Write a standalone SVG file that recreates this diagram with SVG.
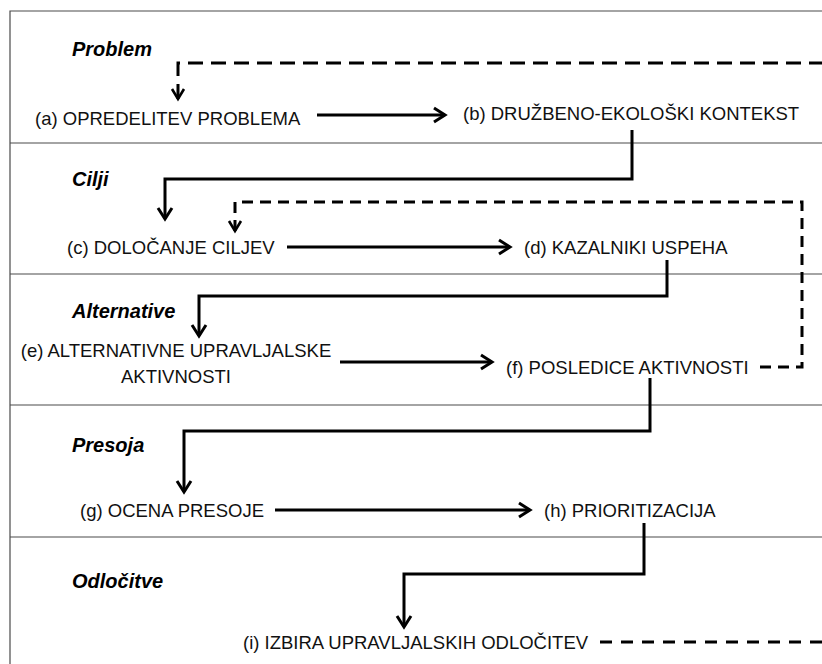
<svg xmlns="http://www.w3.org/2000/svg" width="822" height="664" viewBox="0 0 822 664">
  <style>
    .frame { stroke: #4a4a4a; stroke-width: 1.2; fill: none; }
    .lane { font-family: "Liberation Sans", Arial, sans-serif; font-size: 20px; font-weight: bold; font-style: italic; fill: #000; }
    .node { font-family: "Liberation Sans", Arial, sans-serif; font-size: 18.5px; fill: #111; }
    .solid { stroke: #000; stroke-width: 3; fill: none; stroke-linejoin: miter; marker-end: url(#ah); }
    .dash { stroke: #000; stroke-width: 3; fill: none; stroke-linejoin: miter; }
  </style>
  <defs>
    <marker id="ah" markerUnits="userSpaceOnUse" viewBox="-16 -10 20 20" refX="0" refY="0" markerWidth="20" markerHeight="20" orient="auto" overflow="visible">
      <path d="M-11,-7 L0,0 L-11,7" fill="none" stroke="#000" stroke-width="3"/>
    </marker>
    <marker id="ahd" markerUnits="userSpaceOnUse" viewBox="-16 -10 20 20" refX="0" refY="0" markerWidth="20" markerHeight="20" orient="auto-start-reverse" overflow="visible">
      <path d="M-10,-6 L0,0 L-10,6" fill="none" stroke="#000" stroke-width="2.6"/>
    </marker>
  </defs>
  <rect x="0" y="0" width="822" height="664" fill="#fff"/>

  <g id="frame">
    <path class="frame" d="M10,664 V11 H822"/>
    <path class="frame" d="M10,143 H822 M10,274 H822 M10,405 H822 M10,537 H822"/>
  </g>

  <g id="lane-problem"><text class="lane" x="72" y="56">Problem</text></g>
  <g id="lane-cilji"><text class="lane" x="72" y="186">Cilji</text></g>
  <g id="lane-alternative"><text class="lane" x="72" y="318">Alternative</text></g>
  <g id="lane-presoja"><text class="lane" x="72" y="452">Presoja</text></g>
  <g id="lane-odlocitve"><text class="lane" x="72" y="588">Odločitve</text></g>

  <g id="connectors">
    <path class="solid" d="M317,115 H445"/>
    <path class="solid" d="M632,130 V179 H165 V219"/>
    <path class="solid" d="M287,247 H510"/>
    <path class="solid" d="M667,260 V296 H199 V336"/>
    <path class="solid" d="M340,362 H492"/>
    <path class="solid" d="M650,378 V431 H184 V492"/>
    <path class="solid" d="M275,510 H530"/>
    <path class="solid" d="M644,523 V574 H404 V627"/>
    <path class="dash" d="M178,99 V63 H822" stroke-dasharray="15 8" marker-start="url(#ahd)"/>
    <path class="dash" d="M235,231 V202 H802 V367 H757" stroke-dasharray="11 7" marker-start="url(#ahd)"/>
    <path class="dash" d="M600,642 H822" stroke-dasharray="12 9"/>
  </g>

  <g id="node-a"><text class="node" x="35" y="125">(a) OPREDELITEV PROBLEMA</text></g>
  <g id="node-b"><text class="node" x="463" y="120">(b) DRUŽBENO-EKOLOŠKI KONTEKST</text></g>
  <g id="node-c"><text class="node" x="67" y="254">(c) DOLOČANJE CILJEV</text></g>
  <g id="node-d"><text class="node" x="524" y="254">(d) KAZALNIKI USPEHA</text></g>
  <g id="node-e"><text class="node" text-anchor="middle" x="176" y="357">(e) ALTERNATIVNE UPRAVLJALSKE<tspan x="176" y="383">AKTIVNOSTI</tspan></text></g>
  <g id="node-f"><text class="node" x="506" y="374">(f) POSLEDICE AKTIVNOSTI</text></g>
  <g id="node-g"><text class="node" x="80" y="517">(g) OCENA PRESOJE</text></g>
  <g id="node-h"><text class="node" x="544" y="517">(h) PRIORITIZACIJA</text></g>
  <g id="node-i"><text class="node" x="243" y="649">(i) IZBIRA UPRAVLJALSKIH ODLOČITEV</text></g>
</svg>
